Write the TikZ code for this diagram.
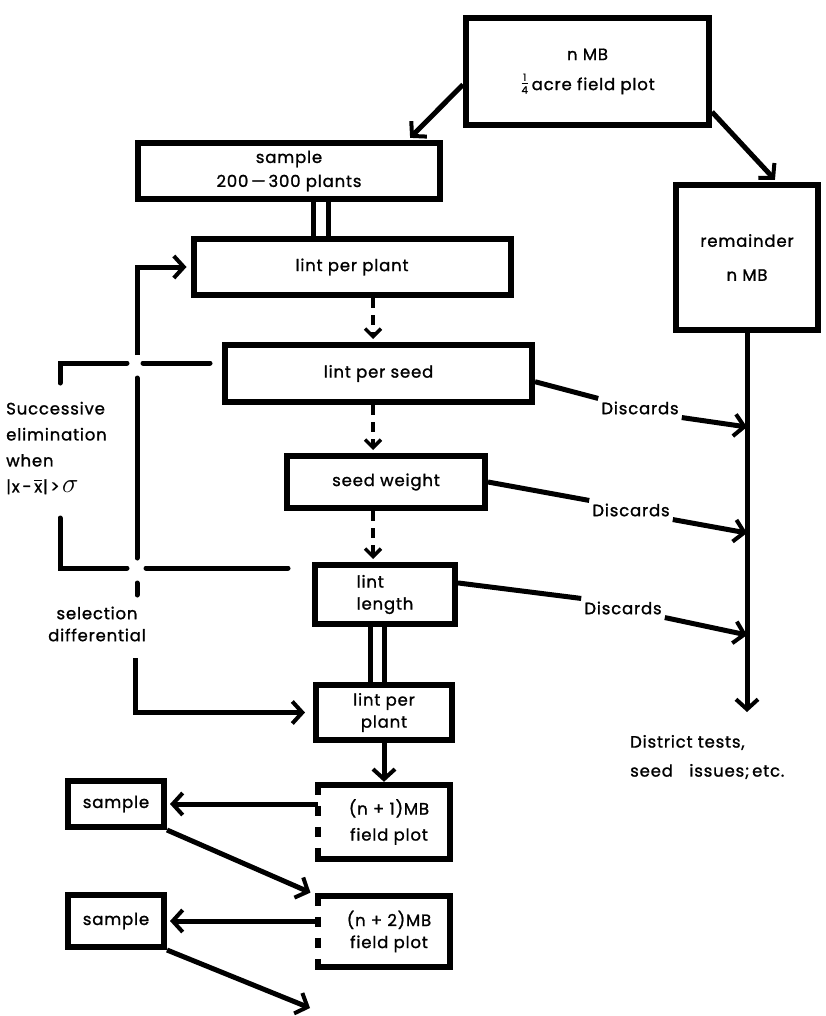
\documentclass[tikz,border=0pt]{standalone}
\usepackage{graphicx}
\usepackage{fontspec}
\setmainfont{Poppins}[LetterSpace=5,FakeBold=1.2]
\usetikzlibrary{arrows.meta,calc}
\newcommand\xbarx{\leavevmode\setbox0\hbox{x}\rlap{\raisebox{\dimexpr\ht0+2pt\relax}{\rule{\wd0}{1.4pt}}}x}
\newcommand\quartr{\raisebox{0.15em}{$\frac{\mbox{\fontsize{10}{10}\selectfont 1}}{\mbox{\fontsize{10}{10}\selectfont 4}}$}}
\begin{document}
\begin{tikzpicture}[x=1pt,y=-1pt,
  txt/.style={font=\fontsize{16.5}{22}\selectfont, inner sep=0pt, align=center},
  box/.style={txt, draw, line width=6pt, line join=miter},
  plain/.style={txt},
  boxline/.style={line width=6pt, line cap=rect, line join=miter},
  conn/.style={line width=5pt},
  arr/.style={conn, -{Straight Barb[length=10pt,width=22pt,line width=4pt]}},
  dasharr/.style={line width=4.5pt, dash pattern=on 10pt off 7pt, -{Straight Barb[length=8pt,width=16pt,line width=3.5pt]}, shorten >=3pt}
]
\fill[white] (0,0) rectangle (825,1016);
\useasboundingbox (0,0) rectangle (825,1016);

% boxes
\node[box, minimum width=243, minimum height=107] (top) at (587.5,71.5) {n MB\\[8pt]\quartr\,acre field plot};
\node[box, minimum width=302, minimum height=56] (sample) at (289,171) {sample\\[2pt]200\,—\,300 plants};
\node[box, minimum width=317, minimum height=56] (lpp1) at (352,267) {lint per plant};
\node[box, minimum width=307, minimum height=57] (lps) at (378.5,373.5) {lint per seed};
\node[box, minimum width=198, minimum height=52] (sw) at (386,482) {seed weight};
\node[box, align=left, minimum width=140, minimum height=59] (ll) at (385,594.5) {lint\\length};
\node[box, minimum width=136, minimum height=55] (lpp2) at (384,712.5) {lint per\\plant};
\node[plain, minimum width=132, minimum height=74] (n1) at (384,822) {\hspace*{10pt}(n + 1)MB\\[4pt]\hspace*{10pt}field plot};
\node[plain, minimum width=132, minimum height=71] (n2) at (384,931.5) {\hspace*{10pt}(n + 2)MB\\\hspace*{10pt}field plot};
\node[box, minimum width=96, minimum height=46] (s1) at (116,804) {sample};
\node[box, minimum width=96, minimum height=52] (s2) at (116,921) {sample};
\node[box, minimum width=142, minimum height=145] (rem) at (747,257.5) {remainder\\[12pt]n MB};

% dashed-left field plot boxes
\draw[boxline] (n1.north west) -- (n1.north east) -- (n1.south east) -- (n1.south west);
\draw[line width=6pt, dash pattern=on 10pt off 11pt] (n1.north west) -- (n1.south west);
\draw[boxline] (n2.north west) -- (n2.north east) -- (n2.south east) -- (n2.south west);
\draw[line width=6pt, dash pattern=on 10pt off 11pt] (n2.north west) -- (n2.south west);

% text labels
\node[plain, align=left, anchor=west, font=\fontsize{16.5}{26}\selectfont] (succ) at (6,448) {Successive\\elimination\\when\\|x\,-\,\xbarx|\,>\,\raisebox{-0.5pt}{\scalebox{1.6}{$\sigma$}}};
\node[plain] (sel) at (97,624) {selection\\differential};
\node[plain, inner sep=3pt] (d1) at (640,408) {Discards};
\node[plain, inner sep=3pt] (d2) at (631,510) {Discards};
\node[plain, inner sep=3pt] (d3) at (623,608) {Discards};
\node[plain, align=left, anchor=west] (dist) at (630,757) {District tests,\\[7pt]seed\quad issues;\,etc.};

% coordinates
\coordinate (ax) at (373,0);
\coordinate (dla) at (313,0);
\coordinate (dlb) at (328,0);
\coordinate (dlc) at (370,0);
\coordinate (dld) at (384,0);
\coordinate (ta) at (408,0);
\coordinate (tb) at (777,0);
\coordinate (dt) at (747,712);
\coordinate (t1) at (747,427);
\coordinate (t2) at (747,533);
\coordinate (t3) at (747,635);
\coordinate (e2) at (310,1008);
\coordinate (v1) at (137,355);
\coordinate (v4) at (135,658);

% top arrows
\draw[arr, shorten >=3pt] (top.186) -- (sample.north -| ta);
\draw[arr, shorten >=3pt] (top.342) -- (rem.north -| tb);

% main chain
\draw[conn] (sample.south -| dla) -- (lpp1.north -| dla);
\draw[conn] (sample.south -| dlb) -- (lpp1.north -| dlb);
\draw[dasharr] (lpp1.south -| ax) -- (lps.north -| ax);
\draw[dasharr] (lps.south -| ax) -- (sw.north -| ax);
\draw[dasharr] (sw.south -| ax) -- (ll.north -| ax);
\draw[conn] (ll.south -| dlc) -- (lpp2.north -| dlc);
\draw[conn] (ll.south -| dld) -- (lpp2.north -| dld);
\draw[arr, shorten >=3pt] (lpp2.south) -- (n1.north);

% samples
\draw[arr, shorten >=3pt] (n1.west |- s1.east) -- (s1.east);
\draw[arr, shorten >=8pt] (s1.south east) -- (n2.north west);
\draw[arr, shorten >=3pt] (n2.west |- s2.east) -- (s2.east);
\draw[arr] (s2.south east) -- (e2);

% remainder line
\draw[arr] (rem.south) -- (dt);

% discards
\draw[conn] (lps.-3) -- (d1.north west);
\draw[arr] (d1.south east) -- (t1);
\draw[conn] (sw.east) -- (d2.north west);
\draw[arr] (d2.south east) -- (t2);
\draw[conn] (ll.9) -- (d3.north west);
\draw[arr] (d3.south east) -- (t3);

% selection bracket
\draw[arr, shorten >=4pt] (v1) |- (lpp1.west);
\draw[arr, shorten >=8pt] (v4) |- (lpp2.west);
\begin{scope}[conn, line cap=round]
\draw (137,378) -- (137,558);
\draw (137,583) -- (137,595);
\draw (127,363) -- (60,363) -- (60,383);
\draw (143,363) -- (210,363);
\draw (60,518) -- (60,568) -- (127,568);
\draw (146,568) -- (288,568);
\end{scope}
\end{tikzpicture}
\end{document}
